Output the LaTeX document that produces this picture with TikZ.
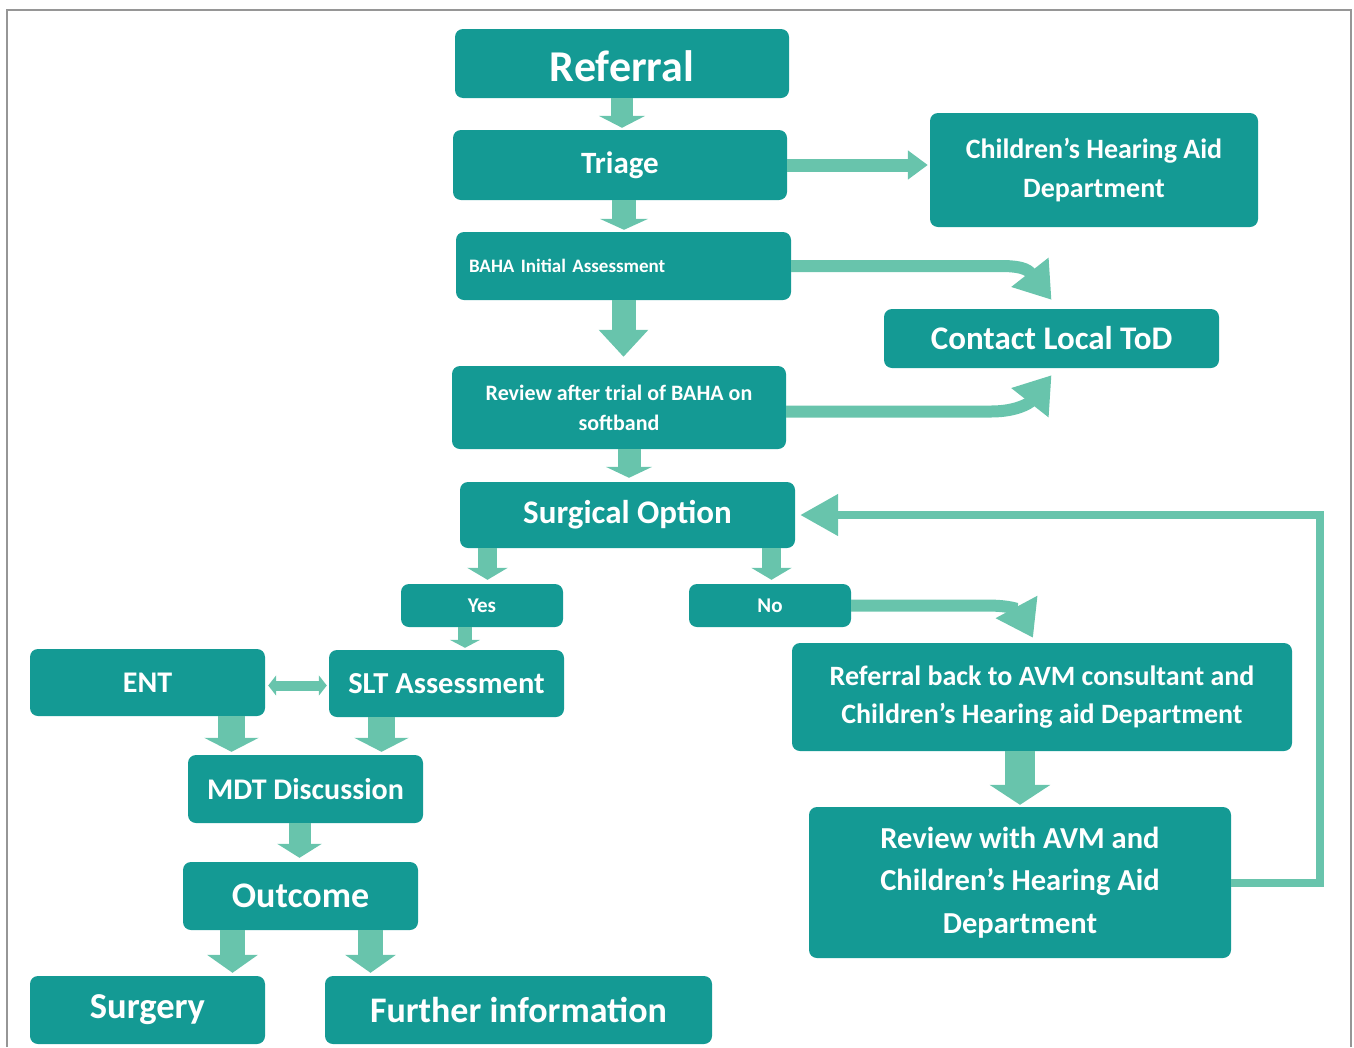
\documentclass[tikz,border=0pt]{standalone}
\usepackage{fontspec}
\setmainfont{Carlito}
\usetikzlibrary{arrows.meta,calc}
\definecolor{boxc}{RGB}{20,154,148}
\definecolor{arrc}{RGB}{104,196,172}
\definecolor{framec}{RGB}{150,150,150}
\newcommand\fsz[2]{\fontsize{#1}{#2}\selectfont}
\begin{document}
\begin{tikzpicture}[x=1pt,y=-1pt,
  box/.style={fill=boxc, rounded corners=8pt, text=white, inner sep=0pt, align=center},
  blk/.style n args={3}{draw=arrc, line width=#1, -{Triangle[width=#2,length=#3]}},
  dblk/.style n args={3}{draw=arrc, line width=#1, {Triangle[width=#2,length=#3]}-{Triangle[width=#2,length=#3]}}
]
\useasboundingbox (0,0) rectangle (1354,1047);
\draw[framec, line width=2pt] (6.5,1047) -- (6.5,9.5) -- (1351,9.5) -- (1351,1047);

% nodes
\node[box, minimum width=334pt, minimum height=69pt] (ref) at (622,63.5) {};
\node[text=white, inner sep=0pt, font=\bfseries\fsz{44}{50}] (reft) at ([yshift=-3pt]ref.center) {Referral};
\node[box, minimum width=334pt, minimum height=70pt, font=\bfseries\fsz{31}{36}] (tri) at (620,165) {Triage};
\node[box, minimum width=328pt, minimum height=114pt, font=\bfseries\fsz{28}{39}] (chad) at (1094,170) {Children’s Hearing Aid\\Department};
\node[box, minimum width=335pt, minimum height=68pt, text width=309pt, inner xsep=13pt, align=left, font=\bfseries\fsz{19}{22}] (baha) at (623.5,266) {BAHA Initial Assessment};
\node[box, minimum width=335pt, minimum height=59pt, font=\bfseries\fsz{33}{38}] (ctod) at (1051.5,338.5) {Contact Local ToD};
\node[box, minimum width=334pt, minimum height=83pt, font=\bfseries\fsz{22}{30}] (rev) at (619,407.5) {Review after trial of BAHA on\\softband};
\node[box, minimum width=335pt, minimum height=66pt, font=\bfseries\fsz{33}{38}] (sur) at (627.5,515) {Surgical Option};
\node[box, minimum width=162pt, minimum height=43pt, font=\bfseries\fsz{21}{24}] (yes) at (482,605.5) {Yes};
\node[box, minimum width=162pt, minimum height=43pt, font=\bfseries\fsz{21}{24}] (no) at (770,605.5) {No};
\node[box, minimum width=235pt, minimum height=67pt, font=\bfseries\fsz{30}{34}] (ent) at (147.5,682.5) {ENT};
\node[box, minimum width=235pt, minimum height=67pt, font=\bfseries\fsz{30.5}{34}] (slt) at (446.5,683.5) {SLT Assessment};
\node[box, minimum width=500pt, minimum height=108pt, font=\bfseries\fsz{28}{38}] (rb) at (1042,697) {Referral back to AVM consultant and\\Children’s Hearing aid Department};
\node[box, minimum width=235pt, minimum height=68pt, font=\bfseries\fsz{30}{34}] (mdt) at (305.5,789) {MDT Discussion};
\node[box, minimum width=422pt, minimum height=151pt, font=\bfseries\fsz{30.5}{42.5}] (rav) at (1020,882.5) {Review with AVM and\\Children’s Hearing Aid\\Department};
\node[box, minimum width=235pt, minimum height=68pt, font=\bfseries\fsz{36}{40}] (out) at (300.5,896) {Outcome};
\node[box, minimum width=235pt, minimum height=68pt, font=\bfseries\fsz{36.5}{40}] (surg) at (147.5,1010) {Surgery};
\node[box, minimum width=387pt, minimum height=68pt, font=\bfseries\fsz{36}{40}] (fur) at (518.5,1010) {Further information};

% straight block arrows
\draw[blk={22pt}{46pt}{12pt}] (ref.south) -- ([yshift=2pt]ref.south |- tri.north);
\draw[blk={24pt}{48pt}{11pt}] ([xshift=4pt]tri.south) -- ([xshift=4pt,yshift=2pt]tri.south |- baha.north);
\draw[blk={13pt}{28pt}{20pt}] (tri.east) -- ([xshift=-2pt]tri.east -| chad.west);
\draw[blk={24pt}{48pt}{27pt}] (baha.south) -- ([yshift=9pt]baha.south |- rev.north);
\draw[blk={23pt}{46pt}{11pt}] ([xshift=10pt]rev.south) -- ([xshift=10pt,yshift=4pt]rev.south |- sur.north);
\draw[blk={19pt}{40pt}{12pt}] ([xshift=-140pt]sur.south) -- ([xshift=-140pt,yshift=4pt]sur.south |- yes.north);
\draw[blk={19pt}{40pt}{12pt}] ([xshift=144pt]sur.south) -- ([xshift=144pt,yshift=4pt]sur.south |- no.north);
\draw[blk={14pt}{30pt}{8pt}] ([xshift=-17pt]yes.south) -- ([xshift=-17pt,yshift=2pt]yes.south |- slt.north);
\draw[dblk={10pt}{20pt}{8pt}] ([xshift=3pt,yshift=-3pt]ent.east) -- ([xshift=-2pt,yshift=-3pt]ent.east -| slt.west);
\draw[blk={27pt}{54pt}{14pt}] ([xshift=84pt]ent.south) -- ([xshift=84pt,yshift=3pt]ent.south |- mdt.north);
\draw[blk={27pt}{54pt}{14pt}] ([xshift=-65pt]slt.south) -- ([xshift=-65pt,yshift=3pt]slt.south |- mdt.north);
\draw[blk={22pt}{44pt}{14pt}] ([xshift=-6pt]mdt.south) -- ([xshift=-6pt,yshift=4pt]mdt.south |- out.north);
\draw[blk={25pt}{50pt}{18pt}] ([xshift=-68pt]out.south) -- ([xshift=-68pt,yshift=3pt]out.south |- surg.north);
\draw[blk={25pt}{50pt}{18pt}] ([xshift=70pt]out.south) -- ([xshift=70pt,yshift=3pt]out.south |- fur.north);
\draw[blk={30pt}{60pt}{20pt}] ([xshift=-22pt]rb.south) -- ([xshift=-22pt,yshift=2pt]rb.south |- rav.north);

% curved block arrows
\draw[blk={12pt}{45pt}{35pt}] (baha.east) -- ++(210,0) .. controls +(25,0) and +(-22,-28) .. ([yshift=9pt]ctod.north);
\draw[blk={12pt}{45pt}{35pt}] ([yshift=-4pt]rev.east) -- ++(205,0) .. controls +(25,0) and +(-22,28) .. ([yshift=-7pt]ctod.south);
\draw[blk={12pt}{45pt}{35pt}] (no.east) -- ++(135,0) .. controls +(25,0) and +(-15,-28) .. ([xshift=-9pt,yshift=5pt]rb.north);

% feedback loop
\draw[blk={8pt}{40pt}{38pt}] (rav.east) -- ++(89,0) |- ([xshift=5pt]sur.east);
\end{tikzpicture}
\end{document}
